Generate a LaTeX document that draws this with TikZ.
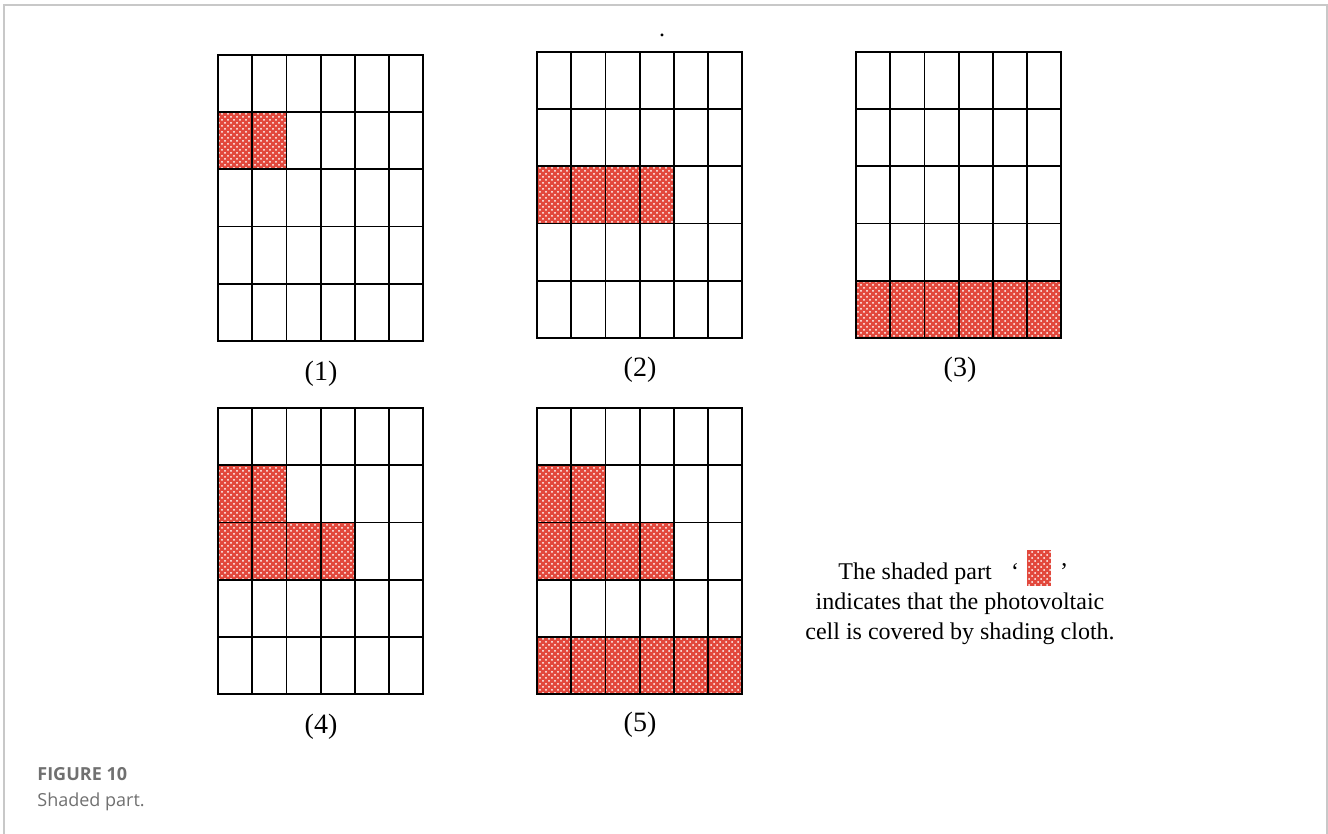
\documentclass[tikz,border=0pt]{standalone}
\usepackage{fontspec}
\setmainfont{Liberation Serif}
\newfontfamily\capfont{Open Sans}
\usetikzlibrary{patterns}
\definecolor{cellred}{RGB}{226,72,60}
\definecolor{framec}{RGB}{200,200,200}
\definecolor{capc}{RGB}{112,112,112}

% one panel: 6 x 5 cells, top left corner at (#1,#2)
\newcommand{\pvgrid}[2]{%
  \foreach \c in {0,...,5}
    \foreach \r in {0,...,4}
      \draw[cellline] ({#1+\c*34.2},{#2+\r*57.2}) rectangle ++(34.2,57.2);
}
% covered cells of row #3, columns 0 to #4
\newcommand{\pvcover}[4]{%
  \foreach \c in {0,...,#4}
    \fill[covered] ({#1+\c*34.2},{#2+#3*57.2}) rectangle ++(34.2,57.2);
}

\begin{document}
\begin{tikzpicture}[x=0.5pt,y=-0.5pt,font=\fontsize{12}{14}\selectfont,
  cellline/.style={black,line width=0.9pt},
  covered/.style={cellred,postaction={pattern=crosshatch dots,pattern color=white}},
  panellabel/.style={anchor=base,font=\fontsize{14}{16}\selectfont}]
  \useasboundingbox (0,0) rectangle (1328,834);
  \draw[framec,line width=0.8pt] (4,834) -- (4,5) -- (1327,5) -- (1327,834);
  \node[anchor=base] (dot) at (662,37) {.};
  % covered cells
  \pvcover{218}{55}{1}{1}
  \pvcover{537}{52}{2}{3}
  \pvcover{856}{52}{4}{5}
  \pvcover{218}{408}{1}{1}
  \pvcover{218}{408}{2}{3}
  \pvcover{537}{408}{1}{1}
  \pvcover{537}{408}{2}{3}
  \pvcover{537}{408}{4}{5}
  % panels
  \pvgrid{218}{55}
  \pvgrid{537}{52}
  \pvgrid{856}{52}
  \pvgrid{218}{408}
  \pvgrid{537}{408}
  \node[panellabel] (lab1) at (321,380) {(1)};
  \node[panellabel] (lab2) at (640,376) {(2)};
  \node[panellabel] (lab3) at (960,376) {(3)};
  \node[panellabel] (lab4) at (321,733) {(4)};
  \node[panellabel] (lab5) at (640,731) {(5)};
  % legend
  \node[anchor=base west,inner sep=0pt] (leg1) at (838,579) {The shaded part};
  \node[anchor=base,inner sep=0pt] (lq) at (1015,579) {‘};
  \fill[covered] (1027,550) rectangle (1051,586);
  \node[anchor=base,inner sep=0pt] (rq) at (1064,579) {’};
  \node[anchor=base,inner sep=0pt] (leg2) at (960,609) {indicates that the photovoltaic};
  \node[anchor=base,inner sep=0pt] (leg3) at (960,639) {cell is covered by shading cloth.};
  % caption
  \node[anchor=base west,inner sep=0pt,text=capc,font=\capfont\bfseries\fontsize{9}{11}\selectfont] (fig) at (37,780) {FIGURE 10};
  \node[anchor=base west,inner sep=0pt,text=capc,font=\capfont\fontsize{9}{11}\selectfont] (cap) at (37,806) {Shaded part.};
\end{tikzpicture}
\end{document}
